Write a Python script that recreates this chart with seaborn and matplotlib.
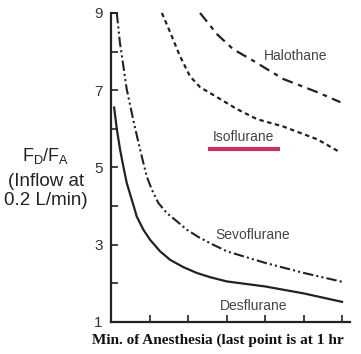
import seaborn as sns
import matplotlib.pyplot as plt
from matplotlib.ticker import MultipleLocator, NullFormatter

# values (minutes, F_D/F_A)
des_t = [0.8, 1.5, 2.34, 3.19, 4.08, 5.38, 6.68, 8.39, 10.13, 12.73, 15.32,
         18.78, 22.25, 25.71, 30.05, 40, 50, 60]
des_v = [6.56, 6.0, 5.47, 5.03, 4.60, 4.17, 3.73, 3.39, 3.13, 2.83, 2.61,
         2.42, 2.27, 2.16, 2.05, 1.92, 1.74, 1.52]

sevo_t = [1.5, 2.3, 3.2, 4.07, 5.37, 6.23, 7.53, 8.39, 9.27, 10.57, 12.29,
          14.47, 17.06, 19.66, 22.68, 25.71, 30.05, 40, 50, 60]
sevo_v = [9.0, 8.24, 7.63, 7.03, 6.42, 6.03, 5.47, 5.12, 4.77, 4.43, 4.08,
          3.82, 3.61, 3.39, 3.20, 3.04, 2.83, 2.53, 2.27, 2.04]

iso_t = [13.2, 15.3, 17.9, 20.5, 23.1, 27.5, 32.7, 37.9, 44.7, 53.5, 59.5]
iso_v = [9.0, 8.51, 7.88, 7.36, 7.08, 6.82, 6.51, 6.25, 6.06, 5.73, 5.39]

halo_t = [23.1, 27.5, 31.7, 36.1, 44.7, 53.5, 59.5]
halo_v = [9.0, 8.45, 8.06, 7.81, 7.29, 6.95, 6.69]

sns.set_style("white")
plt.rcParams['font.family'] = ['Liberation Sans', 'DejaVu Sans']

fig = plt.figure(figsize=(3.61, 3.54), dpi=100)
ax = fig.add_axes([0.3075, 0.0904, 0.662, 0.873])

ink = "#222222"
sns.lineplot(x=des_t, y=des_v, ax=ax, color=ink, lw=1.6, linestyle="-")
sns.lineplot(x=sevo_t, y=sevo_v, ax=ax, color=ink, lw=1.5,
             linestyle=(0, (5, 1.5, 1, 1.5, 1, 1.5)), clip_on=False)
sns.lineplot(x=iso_t, y=iso_v, ax=ax, color=ink, lw=1.6,
             linestyle=(0, (2, 1.6)), clip_on=False)
sns.lineplot(x=halo_t, y=halo_v, ax=ax, color=ink, lw=1.6,
             linestyle=(0, (5, 2.5, 2, 2.5)), clip_on=False)

# small cap at the top of the y axis
ax.plot([0, 1.5], [9, 9], color=ink, lw=1.5, clip_on=False)

ax.set_xlim(0, 62)
ax.set_ylim(1, 9)
ax.xaxis.set_major_locator(MultipleLocator(10))
ax.xaxis.set_major_formatter(NullFormatter())
ax.set_yticks([1, 3, 5, 7, 9])
ax.set_yticks([2, 4, 6, 8], minor=True)
ax.tick_params(axis='both', which='both', direction='in', length=5, width=1.2,
               color=ink, left=True, bottom=True)
ax.tick_params(axis='y', labelsize=11, labelcolor="#333333", pad=6)
ax.tick_params(axis='x', labelbottom=False)

for side in ['top', 'right']:
    ax.spines[side].set_visible(False)
for side in ['left', 'bottom']:
    ax.spines[side].set_linewidth(1.6)
    ax.spines[side].set_color(ink)

lab = dict(fontsize=10, color="#444444", ha='center', va='center')
ax.text(48, 7.88, "Halothane", **lab)
ax.text(34.4, 5.78, "Isoflurane", **lab)
ax.plot([25.2, 43.9], [5.49, 5.49], color="#c8305f", lw=3, solid_capstyle='butt')
ax.text(36.7, 3.26, "Sevoflurane", **lab)
ax.text(37, 1.42, "Desflurane", **lab)

fig.text(0.127, 0.558, "F$_\\mathregular{D}$/F$_\\mathregular{A}$", fontsize=13,
         ha='center', va='center', color="#222222")
fig.text(0.127, 0.4605, "(Inflow at\n0.2 L/min)", fontsize=13.5, ha='center',
         va='center', color="#222222", linespacing=1.15)

fig.text(0.255, 0.038, "Min. of Anesthesia (last point is at 1 hr",
         family=['Liberation Serif', 'DejaVu Serif'], fontweight='bold',
         fontsize=11, ha='left', va='center', color="#111111")

fig.savefig("out.png", dpi=100)
